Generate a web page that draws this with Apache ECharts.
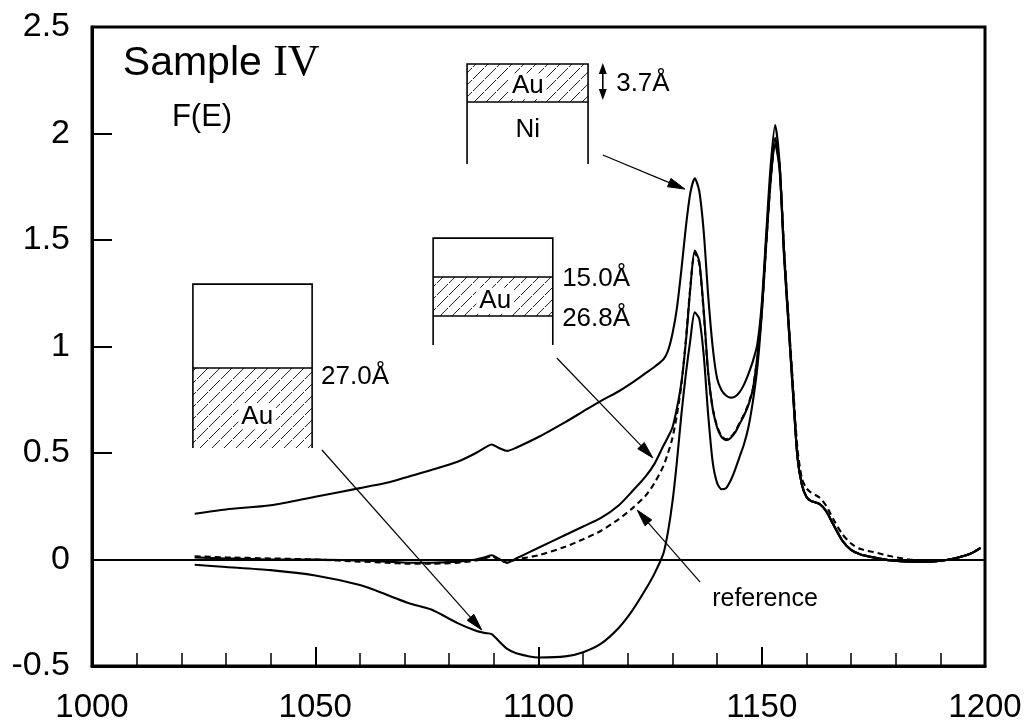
<!DOCTYPE html>
<html>
<head>
<meta charset="utf-8">
<script src="https://cdn.jsdelivr.net/npm/echarts@6/dist/echarts.min.js"></script>
<style>
  html, body { margin: 0; padding: 0; background: #fff; }
  #chart { width: 1032px; height: 724px; }
</style>
</head>
<body>
<div id="chart"></div>
<script>
// Photon energy grid (eV) shared by all four F(E) spectra
const energies = [
  1023, 1030, 1040, 1050, 1060, 1066, 1071, 1076, 1082, 1086,
  1088, 1089.5, 1091, 1093, 1095, 1100, 1106, 1110, 1114, 1118,
  1121, 1124, 1126, 1128, 1129, 1130, 1131, 1132, 1133, 1134,
  1135, 1136, 1137, 1138, 1139, 1140, 1141, 1142, 1143, 1144,
  1145, 1146, 1147, 1148, 1149, 1150, 1151, 1152, 1153, 1154,
  1155, 1156, 1157, 1158, 1159, 1160, 1161, 1163, 1164.5, 1166,
  1168, 1170, 1172, 1175, 1179, 1183, 1188, 1192, 1195, 1197,
  1199
];

// 3.7 Å Au on Ni
const auOnNi = [
  0.215, 0.235, 0.255, 0.295, 0.335, 0.36, 0.39, 0.42, 0.46, 0.50,
  0.525, 0.54, 0.525, 0.51, 0.525, 0.575, 0.645, 0.695, 0.745, 0.79,
  0.83, 0.875, 0.905, 0.94, 0.98, 1.06, 1.18, 1.36, 1.56, 1.72,
  1.79, 1.73, 1.54, 1.24, 1.0, 0.85, 0.795, 0.77, 0.76, 0.765,
  0.785, 0.82, 0.87, 0.93, 1.01, 1.2, 1.53, 1.85, 2.04, 1.86,
  1.45, 1.12, 0.8, 0.48, 0.35, 0.295, 0.275, 0.26, 0.225, 0.165,
  0.09, 0.045, 0.025, 0.01, -0.005, -0.01, -0.01, 0.0, 0.015, 0.03,
  0.055
];

// Au layer between 15.0 Å and 26.8 Å
const auBuried = [
  0.01, 0.005, 0.0, 0.0, -0.005, -0.01, -0.015, -0.015, -0.01, 0.0,
  0.01, 0.02, 0.005, -0.015, 0.005, 0.055, 0.115, 0.155, 0.195, 0.255,
  0.32, 0.39, 0.45, 0.535, 0.575, 0.62, 0.71, 0.83, 1.02, 1.27,
  1.45, 1.40, 1.17, 0.88, 0.71, 0.62, 0.575, 0.56, 0.57, 0.595,
  0.635, 0.675, 0.725, 0.8, 0.95, 1.17, 1.5, 1.8, 1.98, 1.84,
  1.43, 1.1, 0.78, 0.48, 0.35, 0.295, 0.275, 0.26, 0.225, 0.165,
  0.09, 0.045, 0.025, 0.01, -0.005, -0.01, -0.01, 0.0, 0.015, 0.03,
  0.055
];

// reference spectrum (dashed)
const referenceCurve = [
  0.015, 0.01, 0.005, 0.0, -0.01, -0.015, -0.02, -0.02, -0.015, -0.005,
  0.005, 0.015, 0.0, -0.015, 0.0, 0.02, 0.06, 0.095, 0.135, 0.19,
  0.24, 0.3, 0.36, 0.44, 0.5, 0.57, 0.68, 0.82, 1.03, 1.28,
  1.44, 1.39, 1.16, 0.87, 0.71, 0.625, 0.58, 0.565, 0.575, 0.6,
  0.64, 0.68, 0.73, 0.8, 0.95, 1.16, 1.48, 1.78, 1.96, 1.85,
  1.46, 1.13, 0.82, 0.52, 0.38, 0.335, 0.315, 0.29, 0.25, 0.19,
  0.12, 0.075, 0.05, 0.035, 0.015, 0.0, -0.005, 0.0, 0.015, 0.03,
  0.055
];

// Au below 27.0 Å
const auDeep = [
  -0.025, -0.035, -0.05, -0.075, -0.12, -0.165, -0.205, -0.235, -0.3, -0.335,
  -0.345, -0.35, -0.38, -0.42, -0.44, -0.46, -0.455, -0.435, -0.395, -0.32,
  -0.24, -0.14, -0.065, 0.03, 0.13, 0.27, 0.46, 0.68, 0.87, 1.03,
  1.16, 1.13, 0.96, 0.68, 0.46, 0.36, 0.33, 0.335, 0.37, 0.42,
  0.48, 0.54, 0.62, 0.74, 0.9, 1.15, 1.48, 1.78, 1.95, 1.83,
  1.42, 1.1, 0.78, 0.48, 0.35, 0.295, 0.275, 0.26, 0.225, 0.165,
  0.09, 0.045, 0.025, 0.01, -0.005, -0.01, -0.01, 0.0, 0.015, 0.03,
  0.055
];

// Axis ranges and tick steps
const xRange = [1000, 1200], xStep = 50;
const yRange = [-0.5, 2.5], yStep = 0.5;

const FONT = '"Liberation Sans", Arial, Helvetica, sans-serif';
const SERIF = '"Liberation Serif", "Times New Roman", serif';

function pairs(vals) { return energies.map((e, i) => [e, vals[i]]); }

function curve(name, vals, dashed) {
  return {
    name, type: 'line', data: pairs(vals),
    showSymbol: false, smooth: 0.25, silent: true,
    lineStyle: { color: '#000', width: 2.1, type: dashed ? [6, 4] : 'solid' },
    z: dashed ? 3 : 4
  };
}

const chart = echarts.init(document.getElementById('chart'), null, { renderer: 'canvas' });

const series = [
  curve('3.7Å Au/Ni', auOnNi, false),
  curve('15.0–26.8Å Au', auBuried, false),
  curve('reference', referenceCurve, true),
  curve('27.0Å Au', auDeep, false)
];
// horizontal F(E) = 0 line
series[0].markLine = {
  silent: true, symbol: 'none', animation: false,
  label: { show: false },
  lineStyle: { color: '#000', width: 1.8, type: 'solid' },
  data: [{ yAxis: 0 }]
};

chart.setOption({
  animation: false,
  backgroundColor: '#fff',
  grid: { left: 92, right: 47, top: 27, bottom: 58, show: true, borderColor: '#000', borderWidth: 3, backgroundColor: 'transparent' },
  xAxis: {
    type: 'value', min: xRange[0], max: xRange[1], interval: xStep,
    axisLine: { show: true, onZero: false, lineStyle: { color: '#000', width: 3 } },
    axisTick: { show: true, inside: true, length: 19, lineStyle: { color: '#000', width: 2 } },
    minorTick: { show: true, splitNumber: 5, length: 13, lineStyle: { color: '#000', width: 1.5 } },
    splitLine: { show: false },
    axisLabel: { color: '#000', fontSize: 33, fontFamily: FONT, margin: 25, formatter: v => String(v) }
  },
  yAxis: {
    type: 'value', min: yRange[0], max: yRange[1], interval: yStep,
    axisLine: { show: true, onZero: false, lineStyle: { color: '#000', width: 3 } },
    axisTick: { show: true, inside: true, length: 20, lineStyle: { color: '#000', width: 2 } },
    splitLine: { show: false },
    axisLabel: { color: '#000', fontSize: 34, fontFamily: FONT, margin: 22, formatter: v => String(v) }
  },
  series
});

// ---- annotations, anchored in (energy, F) coordinates ----
const toPx = (pt) => chart.convertToPixel({ xAxisIndex: 0, yAxisIndex: 0 }, pt);

function hatchCanvas() {
  const s = 12;
  const c = document.createElement('canvas');
  c.width = s; c.height = s;
  const g = c.getContext('2d');
  g.strokeStyle = '#222';
  g.lineWidth = 1;
  g.beginPath();
  g.moveTo(0, s); g.lineTo(s, 0);
  g.moveTo(-2, 2); g.lineTo(2, -2);
  g.moveTo(s - 2, s + 2); g.lineTo(s + 2, s - 2);
  g.stroke();
  g.clearRect(3, 6, 2, 2);
  return c;
}
const hatch = { image: hatchCanvas(), repeat: 'repeat' };

// layered sample sketches: outline corners, divider levels, hatched band
const layerBoxes = [
  { e0: 1084.0, e1: 1111.1, top: 2.326, bottom: 1.857, dividers: [2.148], band: [2.326, 2.148] },
  { e0: 1076.4, e1: 1103.2, top: 1.509, bottom: 1.007, dividers: [1.326, 1.143], band: [1.326, 1.143] },
  { e0: 1022.6, e1: 1049.3, top: 1.293, bottom: 0.523, dividers: [0.899], band: [0.899, 0.523] }
];

const labels = [
  { at: [1006.9, 2.33], text: '{s|Sample }{r|IV}', align: 'left' },
  { at: [1017.9, 2.075], text: 'F(E)', size: 31, align: 'left' },
  { at: [1097.6, 2.222], text: 'Au', size: 26, align: 'center', knockout: true },
  { at: [1097.6, 2.018], text: 'Ni', size: 26, align: 'center' },
  { at: [1117.4, 2.232], text: '3.7Å', size: 26, align: 'left' },
  { at: [1090.3, 1.215], text: 'Au', size: 26, align: 'center', knockout: true },
  { at: [1105.3, 1.318], text: '15.0Å', size: 26, align: 'left' },
  { at: [1105.3, 1.128], text: '26.8Å', size: 26, align: 'left' },
  { at: [1037.0, 0.672], text: 'Au', size: 26, align: 'center', knockout: true },
  { at: [1051.3, 0.858], text: '27.0Å', size: 26, align: 'left' },
  { at: [1138.9, -0.185], text: 'reference', size: 25, align: 'left' }
];

const arrows = [
  { from: [1114.4, 1.899], to: [1132.8, 1.739] },
  { from: [1104.1, 0.946], to: [1125.6, 0.477] },
  { from: [1051.5, 0.514], to: [1087.3, -0.331] },
  { from: [1136.2, -0.106], to: [1122.1, 0.232] }
];

// thickness marker beside the top sketch
const doubleArrow = { e: 1114.4, f0: 2.331, f1: 2.157 };

function head(tip, from, len, half) {
  const dx = tip[0] - from[0], dy = tip[1] - from[1];
  const d = Math.hypot(dx, dy) || 1;
  const ux = dx / d, uy = dy / d;
  const bx = tip[0] - ux * len, by = tip[1] - uy * len;
  return [tip, [bx - uy * half, by + ux * half], [bx + uy * half, by - ux * half]];
}

const graphics = [];
const lineStyle = { stroke: '#000', lineWidth: 1.6, fill: null };

layerBoxes.forEach(b => {
  const tl = toPx([b.e0, b.top]), br = toPx([b.e1, b.bottom]);
  const y0 = toPx([b.e0, b.band[0]])[1], y1 = toPx([b.e0, b.band[1]])[1];
  graphics.push({ type: 'rect', shape: { x: tl[0], y: y0, width: br[0] - tl[0], height: y1 - y0 },
    style: { fill: hatch, stroke: null }, z: 100, silent: true });
  graphics.push({ type: 'polyline', shape: { points: [[tl[0], br[1]], [tl[0], tl[1]], [br[0], tl[1]], [br[0], br[1]]] },
    style: lineStyle, z: 101, silent: true });
  b.dividers.forEach(f => {
    const y = toPx([b.e0, f])[1];
    graphics.push({ type: 'line', shape: { x1: tl[0], y1: y, x2: br[0], y2: y }, style: lineStyle, z: 101, silent: true });
  });
});

labels.forEach(l => {
  const p = toPx(l.at);
  const style = {
    text: l.text, fill: '#000', align: l.align, verticalAlign: 'middle',
    fontFamily: FONT, fontSize: l.size || 40
  };
  if (l.knockout) { style.backgroundColor = '#fff'; style.padding = [0, 3]; }
  if (l.text.indexOf('{s|') === 0) {
    style.rich = {
      s: { fontFamily: FONT, fontSize: 41, fill: '#000' },
      r: { fontFamily: SERIF, fontSize: 44, fill: '#000' }
    };
  }
  graphics.push({ type: 'text', x: p[0], y: p[1], style, z: 102, silent: true });
});

arrows.forEach(a => {
  const p0 = toPx(a.from), p1 = toPx(a.to);
  const h = head(p1, p0, 17, 4.5);
  const base = [(h[1][0] + h[2][0]) / 2, (h[1][1] + h[2][1]) / 2];
  graphics.push({ type: 'line', shape: { x1: p0[0], y1: p0[1], x2: base[0], y2: base[1] },
    style: { stroke: '#000', lineWidth: 1.2 }, z: 103, silent: true });
  graphics.push({ type: 'polygon', shape: { points: h }, style: { fill: '#000', stroke: '#000', lineWidth: 1 }, z: 103, silent: true });
});

(function () {
  const t = toPx([doubleArrow.e, doubleArrow.f0]), b = toPx([doubleArrow.e, doubleArrow.f1]);
  graphics.push({ type: 'line', shape: { x1: t[0], y1: t[1] + 8, x2: b[0], y2: b[1] - 8 },
    style: { stroke: '#000', lineWidth: 1.6 }, z: 103, silent: true });
  graphics.push({ type: 'polygon', shape: { points: head(t, b, 11, 4) }, style: { fill: '#000' }, z: 103, silent: true });
  graphics.push({ type: 'polygon', shape: { points: head(b, t, 11, 4) }, style: { fill: '#000' }, z: 103, silent: true });
})();

chart.setOption({ graphic: graphics });
</script>
</body>
</html>
